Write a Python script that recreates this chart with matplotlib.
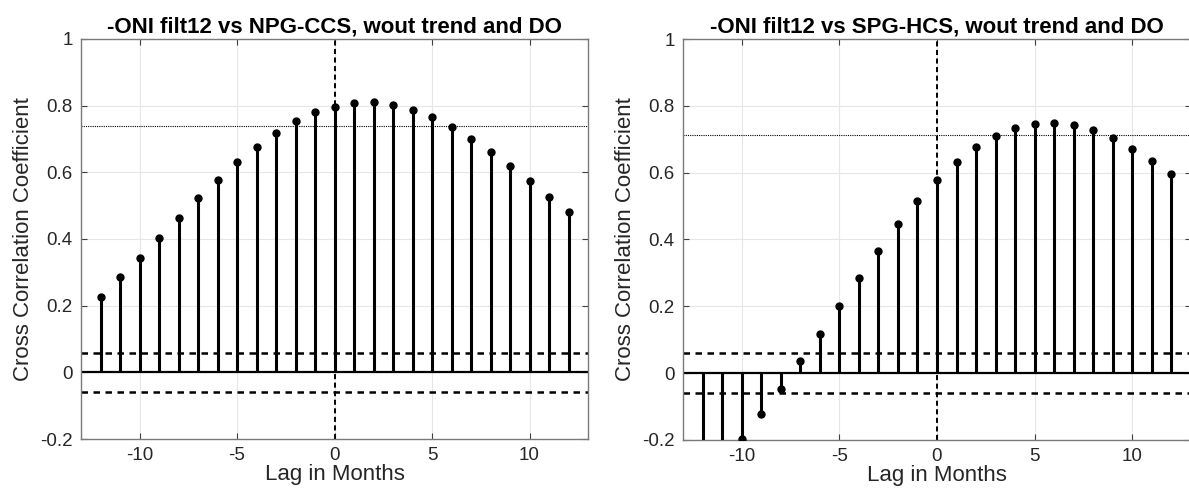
import matplotlib
matplotlib.use("Agg")
import matplotlib.pyplot as plt
import numpy as np

# Lags (months) and cross-correlation coefficients for each region
lags = list(range(-12, 13))

npg_ccs = [0.226, 0.285, 0.343, 0.403, 0.462, 0.522, 0.578, 0.630, 0.677,
           0.718, 0.753, 0.780, 0.797, 0.808, 0.810, 0.803, 0.787, 0.766,
           0.736, 0.700, 0.662, 0.619, 0.573, 0.527, 0.480]

spg_hcs = [-0.330, -0.265, -0.196, -0.123, -0.047, 0.035, 0.118, 0.202,
           0.286, 0.367, 0.445, 0.515, 0.579, 0.633, 0.677, 0.710, 0.735,
           0.747, 0.750, 0.743, 0.727, 0.703, 0.672, 0.636, 0.595]

# Significance levels: 95% bounds around zero, and the peak threshold line
sig_bound = [0.059, 0.059]
peak_level = [0.738, 0.712]

titles = ["-ONI filt12 vs NPG-CCS, wout trend and DO",
          "-ONI filt12 vs SPG-HCS, wout trend and DO"]
series = [npg_ccs, spg_hcs]

x_ticks = [-10, -5, 0, 5, 10]
y_ticks = [-0.2, 0, 0.2, 0.4, 0.6, 0.8, 1]
y_ticklabels = ["-0.2", "0", "0.2", "0.4", "0.6", "0.8", "1"]

plt.rcParams['font.family'] = ['Liberation Sans', 'DejaVu Sans']
plt.rcParams['axes.unicode_minus'] = False

W, H = 1189, 491
fig = plt.figure(figsize=(W / 100, H / 100), dpi=100)

axes_px = [(81, 39, 507, 400), (683, 39, 508, 401)]

for k, (x0, y0, w, h) in enumerate(axes_px):
    ax = fig.add_axes([x0 / W, 1 - (y0 + h) / H, w / W, h / H])
    vals = series[k]

    ax.set_xlim(-13, 13)
    ax.set_ylim(-0.2, 1)
    ax.set_xticks(x_ticks)
    ax.set_yticks(y_ticks)
    ax.set_yticklabels(y_ticklabels)
    ax.grid(True, color='#e6e6e6', linewidth=0.8)
    ax.set_axisbelow(True)

    # stems and markers
    ax.vlines(lags, 0, vals, colors='black', linewidth=2.2, zorder=3)
    ax.plot(lags, vals, 'o', color='black', markersize=5.0, zorder=4)

    # baseline and reference lines
    ax.axhline(0, color='black', linewidth=1.6, zorder=2)
    for s in (sig_bound[k], -sig_bound[k]):
        ax.axhline(s, color='black', linewidth=1.8, dashes=(2.6, 2.2), zorder=2)
    ax.axhline(peak_level[k], color='black', linewidth=0.8,
               linestyle=(0, (1, 1)), zorder=2)
    ax.axvline(0, color='black', linewidth=1.4, dashes=(2.6, 1.8), zorder=2)

    for sp in ax.spines.values():
        sp.set_color('#7a7a7a')
        sp.set_linewidth(1.0)
    ax.tick_params(direction='in', length=4, width=0.8, color='#404040',
                   labelsize=13.5, labelcolor='#262626', pad=6,
                   top=True, right=True)

    ax.set_title(titles[k], fontsize=16, fontweight='bold', pad=5)
    ax.set_xlabel("Lag in Months", fontsize=16, color='#262626', labelpad=0)
    ax.set_ylabel("Cross Correlation Coefficient", fontsize=16,
                  color='#262626', labelpad=4)

fig.savefig("out.png", dpi=100)
